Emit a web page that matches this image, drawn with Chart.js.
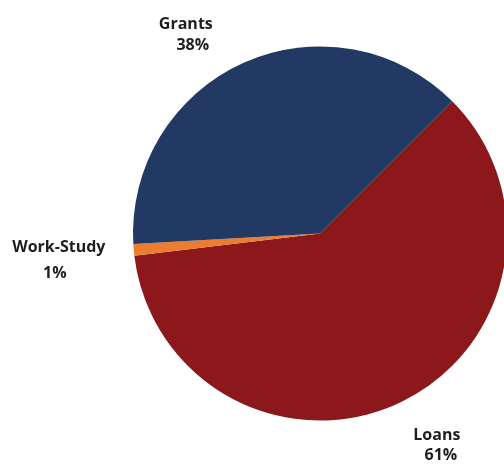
<!DOCTYPE html>
<html>
<head>
<meta charset="utf-8">
<script src="https://cdn.jsdelivr.net/npm/chart.js@4.4.1/dist/chart.umd.min.js"></script>
<style>
  html, body { margin: 0; padding: 0; background: #fff; overflow: hidden; }
  #wrap { width: 640px; height: 464px; }
</style>
</head>
<body>
<div id="wrap"><canvas id="aidPie" width="640" height="464"></canvas></div>
<script>
// slices go clockwise from the Grants/Loans edge at upper right
let categories = ["Loans", "Work-Study", "Grants"];
let shares = [60.6, 1.0, 38.4];
let pctLabels = ["61%", "1%", "38%"];
let sliceColors = ["#8c181c", "#ec7c30", "#213963"];

// label placement: nudge from a point just outside each slice, and line gap
let labelNudge = [[24, 15], [-47, 6], [-42, -2]];
let lineGap = [20, 26, 21];
let secondLineShift = [4, -4, 7];

const outsideLabels = {
  id: "outsideLabels",
  afterDraw(chart) {
    let ctx = chart.ctx;
    let arcs = chart.getDatasetMeta(0).data;
    ctx.save();
    ctx.font = "bold 16px 'Open Sans', sans-serif";
    ctx.fillStyle = "#1e1e1e";
    ctx.textAlign = "center";
    ctx.textBaseline = "alphabetic";
    for (let i = 0; i < arcs.length; i++) {
      let a = arcs[i];
      let mid = (a.startAngle + a.endAngle) / 2;
      let r = a.outerRadius + 30;
      let x = a.x + Math.cos(mid) * r + labelNudge[i][0];
      let y = a.y + Math.sin(mid) * r + labelNudge[i][1];
      // two lines centred round (x, y)
      let top = y - lineGap[i] / 2 + 6;
      ctx.fillText(categories[i], x - secondLineShift[i] / 2, top);
      ctx.fillText(pctLabels[i], x + secondLineShift[i] / 2, top + lineGap[i]);
    }
    ctx.restore();
  }
};

new Chart(document.getElementById("aidPie"), {
  type: "pie",
  data: {
    labels: categories,
    datasets: [{
      data: shares,
      backgroundColor: sliceColors,
      borderWidth: 0,
      hoverOffset: 0
    }]
  },
  options: {
    responsive: false,
    animation: false,
    rotation: 45,
    layout: { padding: { left: 133, right: 133, top: 46.5, bottom: 43.5 } },
    plugins: {
      legend: { display: false },
      tooltip: { enabled: false }
    }
  },
  plugins: [outsideLabels]
});
</script>
</body>
</html>
